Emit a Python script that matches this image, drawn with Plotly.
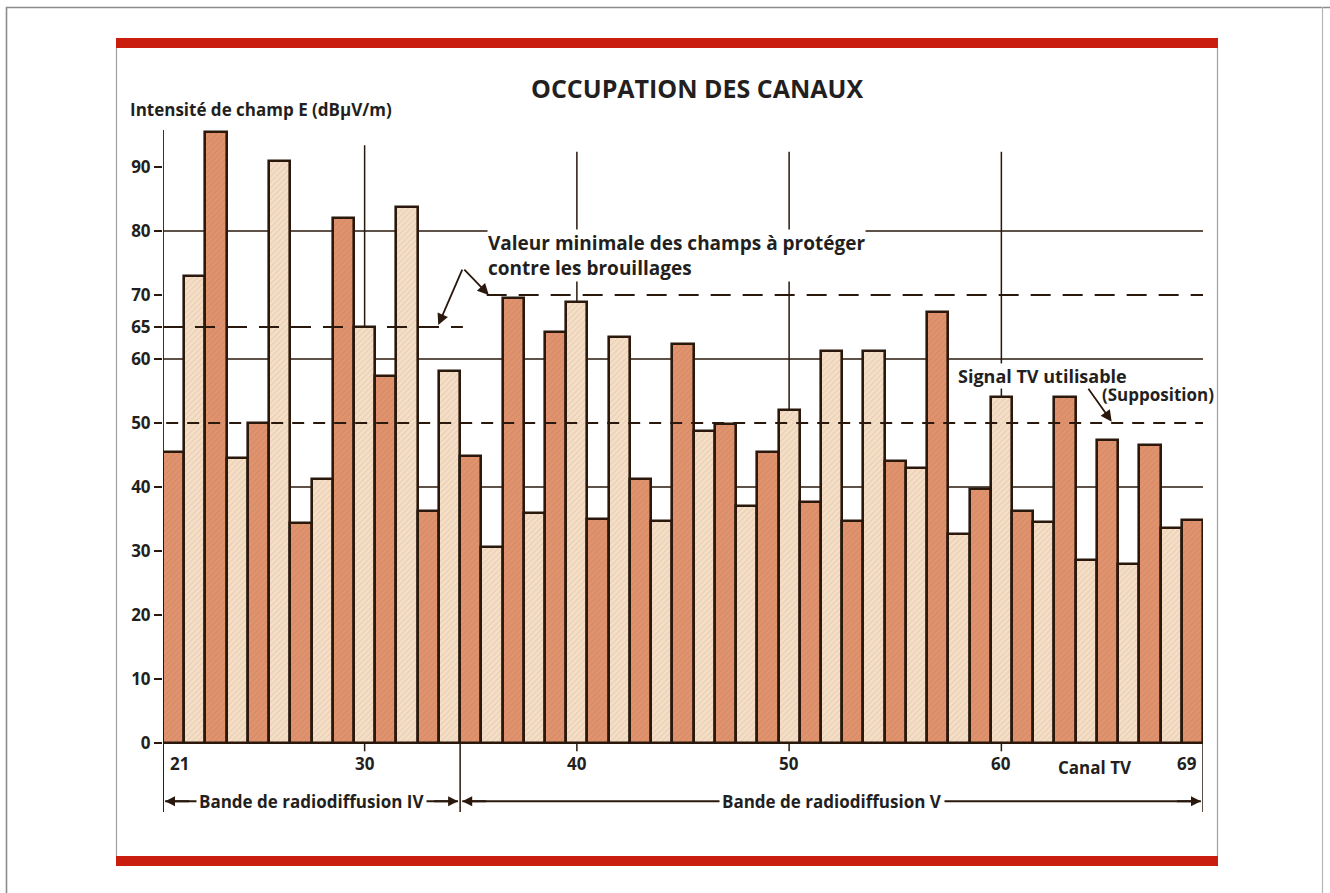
import plotly.graph_objects as go

# --- data -------------------------------------------------------------------
CHANNELS = list(range(21, 70))
FIELD_DBUV = [
    45.5, 73.0, 95.5, 44.6, 50.0, 91.0, 34.4, 41.3, 82.0, 65.0, 57.4, 83.7, 36.3, 58.2,
    44.9, 30.7, 69.6, 36.0, 64.2, 68.9, 35.0, 63.4, 41.2, 34.7, 62.4, 48.7, 49.9, 37.1,
    45.5, 52.1, 37.6, 61.2, 34.7, 61.2, 44.1, 42.9, 67.3, 32.6, 39.7, 54.0, 36.2, 34.6,
    54.0, 28.6, 47.4, 27.9, 46.5, 33.6, 34.9,
]
Y_TICKS = [0, 10, 20, 30, 40, 50, 60, 65, 70, 80, 90]
GRID_LEVELS = [40, 60, 80]
X_TICKS = [30, 40, 50, 60]
BANDS = [("Bande de radiodiffusion IV", 21, 34), ("Bande de radiodiffusion V", 35, 69)]
PROTECTION_IV = 65      # minimum protected field, band IV
PROTECTION_V = 70       # minimum protected field, band V
USABLE_SIGNAL = 50      # usable TV signal (assumption)

# --- style ------------------------------------------------------------------
W, H = 1330, 893
FONT = "Open Sans"
INK = "#231f20"
EDGE = "#2a180c"
DARK = "#e2936d"
LIGHT = "#f7dfc6"
RED = "#c91d10"
FRAME = "#8c8c8c"

def px_x(p):
    return p / W

def px_y(p):
    return 1 - p / H

X_RANGE = [CHANNELS[0] - 0.5, CHANNELS[-1] + 0.5]
Y_RANGE = [-12, 100]
X_DOMAIN = [px_x(163), px_x(1203)]
Y_DOMAIN = [px_y(743 + 12 * 6.4), px_y(743 - 100 * 6.4)]

fig = go.Figure()

fig.add_trace(go.Bar(
    x=CHANNELS,
    y=FIELD_DBUV,
    width=1.0,
    marker=dict(
        color=[DARK if c % 2 else LIGHT for c in CHANNELS],
        line=dict(color=EDGE, width=2.6),
        pattern=dict(shape="/", fillmode="overlay", fgcolor="#b8734a",
                     fgopacity=0.10, size=4, solidity=0.3),
    ),
    hoverinfo="skip",
))

shapes = []

def line(x0, y0, x1, y1, width=1.5, color=EDGE, dash=None, layer="below",
         xref="x", yref="y"):
    shapes.append(dict(type="line", x0=x0, y0=y0, x1=x1, y1=y1, xref=xref, yref=yref,
                       layer=layer, line=dict(color=color, width=width, dash=dash)))

# solid horizontal grid
for lv in GRID_LEVELS:
    line(X_RANGE[0], lv, X_RANGE[1], lv, width=1.5)
# vertical grid at the labelled channels
for i, ch in enumerate(X_TICKS):
    line(ch, 0, ch, 93.4 if i == 0 else 92.4, width=1.5)
# y axis
line(X_RANGE[0], -10.8, X_RANGE[0], 95.8, width=1.8, layer="above")
# x axis
line(X_RANGE[0], 0, X_RANGE[1], 0, width=2.2, layer="above")
# tick marks under the x axis
for ch in X_TICKS:
    line(ch, 0, ch, -1.3, width=1.5, layer="above")
# band separators
edges = [BANDS[0][1] - 0.5] + [b[2] + 0.5 for b in BANDS]
for e in edges:
    line(e, 0, e, -10.8, width=1.5, layer="above")
# band arrows (shaft)
ROW = -9.1
for name, a, b in BANDS:
    line(a - 0.4, ROW, b + 0.4, ROW, width=1.8, layer="above")

# threshold lines
line(X_RANGE[0], PROTECTION_IV, 34.63, PROTECTION_IV, width=2.2,
     dash="20px,12px", layer="above")
line(35.75, PROTECTION_V, 69.75, PROTECTION_V, width=2.2,
     dash="20px,12px", layer="above")
line(X_RANGE[0] + 0.15, USABLE_SIGNAL, 69.75, USABLE_SIGNAL, width=2.2,
     dash="12px,9px", layer="above")

# page decoration: red rules, panel edges, outer frame
for top, bot in [(38, 48), (856, 866)]:
    shapes.append(dict(type="rect", xref="paper", yref="paper",
                       x0=px_x(116), x1=px_x(1218), y0=px_y(bot), y1=px_y(top),
                       fillcolor=RED, line=dict(width=0), layer="above"))
for xp in (116.5, 1217.5):
    line(px_x(xp), px_y(48), px_x(xp), px_y(856), width=1.2, color="#a0a0a0",
         xref="paper", yref="paper")
line(px_x(6), px_y(7.5), px_x(1330), px_y(7.5), width=1.6, color=FRAME,
     xref="paper", yref="paper")
line(px_x(6.5), px_y(7), px_x(6.5), 0, width=1.6, color=FRAME, xref="paper", yref="paper")
line(px_x(1322.5), px_y(7), px_x(1322.5), 0, width=1.2, color="#b5b5b5",
     xref="paper", yref="paper")

annotations = []

def text(x, y, s, size=17, xanchor="center", yanchor="middle", bg=None, pad=2, **kw):
    d = dict(x=x, y=y, text=s, showarrow=False, xanchor=xanchor, yanchor=yanchor,
             font=dict(family=FONT, size=size, color=INK, weight="bold"))
    if bg:
        d.update(bgcolor=bg, borderpad=pad)
    d.update(kw)
    annotations.append(d)

def arrow(hx, hy, tx, ty, width=1.8, head=2, size=1.25):
    annotations.append(dict(x=hx, y=hy, ax=tx, ay=ty, xref="x", yref="y",
                            axref="x", ayref="y", text="", showarrow=True,
                            arrowhead=head, arrowsize=size, arrowwidth=width,
                            arrowcolor=EDGE, standoff=0, startstandoff=0))

# band labels, then arrowheads at the band edges
for name, a, b in BANDS:
    text((a + b) / 2, ROW, name, size=17, bg="white")
for name, a, b in BANDS:
    arrow(a - 0.4, ROW, a + 0.8, ROW, size=1.1)
    arrow(b + 0.4, ROW, b - 0.8, ROW, size=1.1)

# protection threshold callout (two-line label)
text(35.77, 76.2, "Valeur minimale des champs à protéger<br>contre les brouillages",
     size=19, xanchor="left", align="left", bg="white", pad=0)
arrow(33.47, PROTECTION_IV + 0.3, 34.63, 74.2)
arrow(35.85, PROTECTION_V, 34.63, 74.2)

# usable signal callout
text(px_x(1215), 54.4, "(Supposition)", size=17, xanchor="right", bg="white", pad=0,
     xref="paper")
text(57.9, 57.4, "Signal TV utilisable", size=18, xanchor="left", bg="white", pad=0)
arrow(65.2, USABLE_SIGNAL + 0.2, 64.05, 55.6)

# x tick labels
XLAB_Y = -3.15
text(CHANNELS[0] - 0.5, XLAB_Y, str(CHANNELS[0]), xanchor="left", xshift=5)
for ch in X_TICKS:
    text(ch, XLAB_Y, str(ch))
text(CHANNELS[-1] + 0.5, XLAB_Y, str(CHANNELS[-1]), xanchor="right", xshift=-4)
text(64.4, -3.8, "Canal TV")

# axis title and chart title
text(px_x(128), px_y(110), "Intensité de champ E (dBμV/m)", xanchor="left",
     xref="paper", yref="paper")
text(px_x(697), px_y(88), "OCCUPATION DES CANAUX", size=25,
     xref="paper", yref="paper")

fig.update_layout(
    width=W, height=H,
    margin=dict(l=0, r=0, t=0, b=0),
    paper_bgcolor="white", plot_bgcolor="rgba(0,0,0,0)",
    showlegend=False,
    bargap=0,
    xaxis=dict(range=X_RANGE, domain=X_DOMAIN, visible=False, fixedrange=True),
    yaxis=dict(range=Y_RANGE, domain=Y_DOMAIN, showgrid=False, zeroline=False,
               showline=False, ticks="outside", ticklen=8, tickwidth=1.5,
               tickcolor=EDGE, tickvals=Y_TICKS, ticktext=[str(v) for v in Y_TICKS],
               tickfont=dict(family=FONT, size=17, color=INK, weight="bold"),
               fixedrange=True),
    shapes=shapes,
    annotations=annotations,
)

fig.write_html("out.html")
